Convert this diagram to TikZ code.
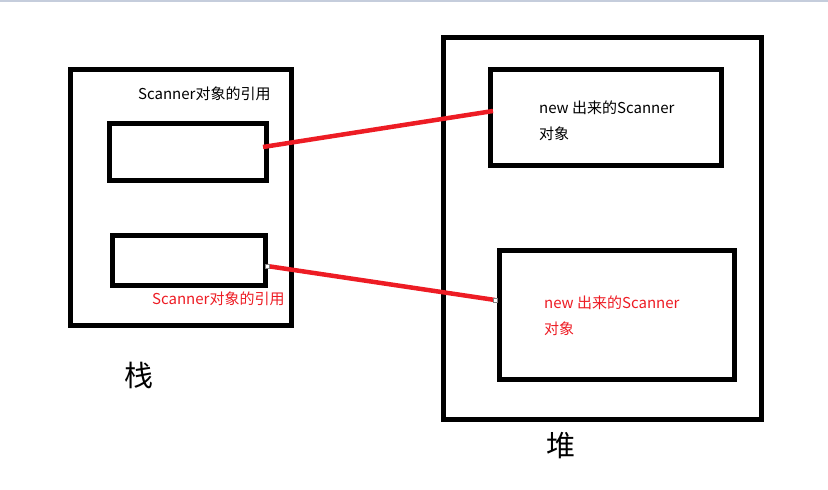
\documentclass[tikz,border=0pt]{standalone}
\usepackage{fontspec}
\setmainfont{Noto Sans CJK SC}
\definecolor{paintred}{HTML}{ED1C24}
\definecolor{topbar}{HTML}{C5CDDC}
\begin{document}
\begin{tikzpicture}[x=1pt,y=-1pt,
  box/.style={draw=black,line width=5pt},
  link/.style={draw=paintred,line width=4.5pt},
  lbl/.style={anchor=base west,inner sep=0pt,font=\fontsize{15}{17}\selectfont},
  big/.style={anchor=base west,inner sep=0pt,font=\fontsize{29}{32}\selectfont},
  handle/.style={draw=gray,fill=white,line width=0.6pt,minimum size=4pt,inner sep=0pt}]
\useasboundingbox (0,0) rectangle (828,490);
\fill[topbar] (0,0) rectangle (828,2);
% stack
\draw[box] (70.5,69.5) rectangle (291.5,325);
\draw[box] (109.5,123.5) rectangle (266.5,180);
\draw[box] (112.5,235.5) rectangle (265,285.5);
\node[lbl] (sref1) at (138,99.5) {Scanner对象的引用};
\node[lbl,text=paintred] (sref2) at (152,304.5) {Scanner对象的引用};
\node[big] (zhan) at (124,386) {栈};
% heap
\draw[box] (443,37) rectangle (761,419);
\draw[box] (490.5,69) rectangle (721,165);
\draw[box] (499,250) rectangle (734.5,379);
\node[lbl] (obj1a) at (539,113.5) {new 出来的Scanner};
\node[lbl] (obj1b) at (539,139.5) {对象};
\node[lbl,text=paintred] (obj2a) at (544,308.5) {new 出来的Scanner};
\node[lbl,text=paintred] (obj2b) at (544,334.5) {对象};
\node[big] (dui) at (546,456) {堆};
% links
\coordinate (a1) at (263,147);
\coordinate (b1) at (493,111);
\coordinate (a2) at (267,266);
\coordinate (b2) at (495,300);
\draw[link] (a1) -- (b1);
\draw[link] (a2) -- (b2);
\node[handle] (h1) at (a2) {};
\node[handle] (h2) at (b2) {};
\end{tikzpicture}
\end{document}
